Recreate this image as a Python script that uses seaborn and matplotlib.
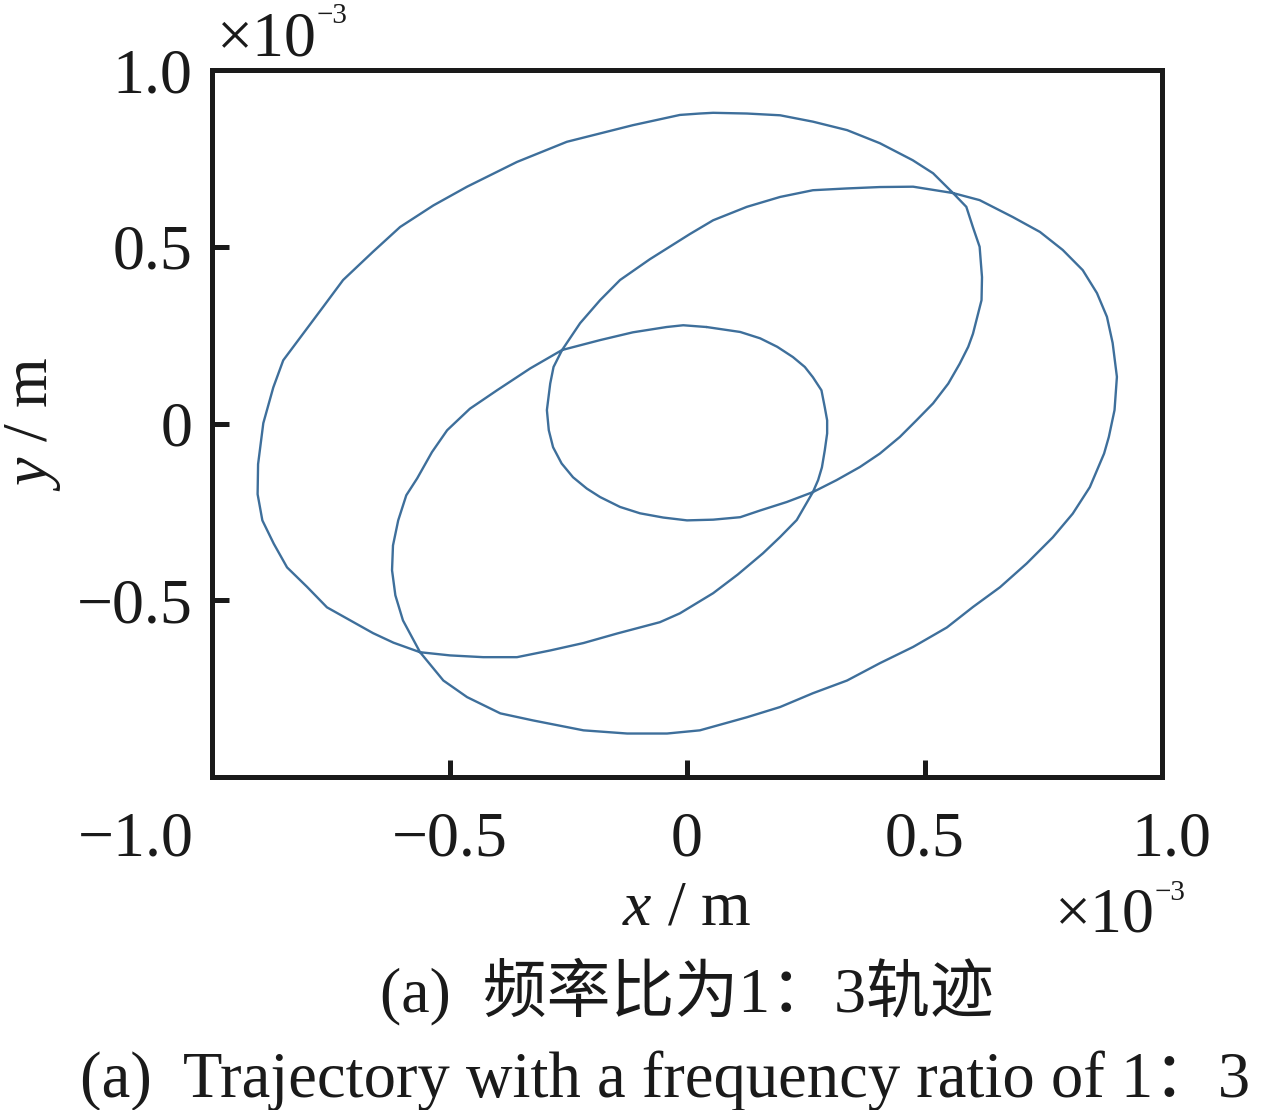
import numpy as np
import matplotlib
matplotlib.use('Agg')
import matplotlib.pyplot as plt
import seaborn as sns
from matplotlib.ticker import FuncFormatter
from matplotlib.transforms import ScaledTranslation

# orbit points, in units of 1e-3 m (one closed path)
x_mm = [0.041, -0.008, -0.043, -0.114, -0.183, -0.263,
        -0.330, -0.400, -0.457, -0.505, -0.537, -0.568, -0.591, -0.608, -0.619, -0.621,
        -0.614, -0.598, -0.562, -0.513, -0.463, -0.393, -0.324, -0.218, -0.126, -0.042,
        0.027, 0.126, 0.196, 0.265, 0.337, 0.406, 0.476, 0.547, 0.602, 0.659,
        0.715, 0.770, 0.812, 0.848, 0.878, 0.888, 0.900, 0.905, 0.896, 0.884,
        0.863, 0.833, 0.791, 0.743, 0.686, 0.616, 0.560,
        0.476, 0.406, 0.336, 0.265, 0.196, 0.126, 0.055, 0.006, -0.078, -0.141,
        -0.183, -0.225, -0.263,
        -0.281, -0.288, -0.295, -0.291, -0.282, -0.264, -0.240, -0.211, -0.183, -0.141,
        -0.099, -0.050, 0.000, 0.055, 0.112, 0.154, 0.210, 0.265,
        0.315, 0.364, 0.406, 0.448, 0.483, 0.518, 0.550, 0.574, 0.592, 0.602,
        0.620, 0.621, 0.616, 0.602, 0.588, 0.560,
        0.518, 0.475, 0.406, 0.337, 0.265, 0.196, 0.126, 0.055, 0.027, -0.015,
        -0.114, -0.253, -0.358, -0.463, -0.534, -0.604, -0.661, -0.724, -0.766, -0.814,
        -0.850, -0.871, -0.892, -0.903, -0.904, -0.894, -0.870, -0.842, -0.800, -0.758,
        -0.709, -0.661, -0.618, -0.562,
        -0.499, -0.429, -0.358, -0.288, -0.218, -0.147, -0.057, -0.015, 0.055, 0.107,
        0.160, 0.196, 0.231, 0.265,
        0.276, 0.284, 0.290, 0.295, 0.295, 0.290, 0.283, 0.265, 0.248, 0.223,
        0.190, 0.154, 0.112, 0.041]
y_mm = [0.273, 0.278, 0.273, 0.258, 0.236, 0.208,
        0.156, 0.094, 0.042, -0.019, -0.081, -0.155, -0.203, -0.274, -0.345, -0.415,
        -0.486, -0.557, -0.647, -0.727, -0.774, -0.820, -0.840, -0.868, -0.877, -0.877,
        -0.868, -0.831, -0.802, -0.763, -0.727, -0.678, -0.632, -0.577, -0.519, -0.463,
        -0.396, -0.322, -0.255, -0.180, -0.085, -0.038, 0.038, 0.132, 0.228, 0.302,
        0.369, 0.434, 0.491, 0.542, 0.584, 0.632, 0.652,
        0.670, 0.669, 0.665, 0.660, 0.641, 0.613, 0.575, 0.536, 0.465, 0.406,
        0.349, 0.284, 0.208,
        0.160, 0.113, 0.038, -0.019, -0.067, -0.113, -0.152, -0.184, -0.208, -0.236,
        -0.254, -0.266, -0.274, -0.272, -0.265, -0.246, -0.222, -0.194,
        -0.160, -0.123, -0.085, -0.038, 0.009, 0.057, 0.113, 0.169, 0.217, 0.254,
        0.349, 0.414, 0.500, 0.555, 0.613, 0.652,
        0.708, 0.745, 0.793, 0.830, 0.854, 0.872, 0.877, 0.879, 0.877, 0.873,
        0.844, 0.797, 0.740, 0.670, 0.617, 0.556, 0.486, 0.406, 0.330, 0.244,
        0.179, 0.102, 0.001, -0.115, -0.200, -0.274, -0.340, -0.407, -0.462, -0.520,
        -0.557, -0.593, -0.620, -0.647,
        -0.656, -0.661, -0.661, -0.642, -0.621, -0.594, -0.562, -0.537, -0.480, -0.427,
        -0.367, -0.321, -0.273, -0.194,
        -0.160, -0.124, -0.076, -0.028, 0.009, 0.046, 0.094, 0.131, 0.160, 0.188,
        0.217, 0.241, 0.259, 0.273]

x_ticks = [-1.0e-3, -0.5e-3, 0.0, 0.5e-3, 1.0e-3]
y_ticks = [-0.5e-3, 0.0, 0.5e-3, 1.0e-3]

caption_cn = '(a)  频率比为1：3轨迹'
caption_en = '(a)  Trajectory with a frequency ratio of 1：3'

x = np.array(x_mm) * 1e-3
y = np.array(y_mm) * 1e-3

sns.set_style('ticks')
plt.rcParams['font.family'] = ['Liberation Serif', 'Noto Sans CJK SC']
plt.rcParams['mathtext.fontset'] = 'custom'
plt.rcParams['mathtext.rm'] = 'Liberation Serif'
plt.rcParams['mathtext.it'] = 'Liberation Serif:italic'

ink = '#1a1a1a'
fig = plt.figure(figsize=(12.88, 11.10), dpi=100)
ax = fig.add_axes([0.1646, 0.3000, 0.7376, 0.6369])

sns.lineplot(x=x, y=y, sort=False, estimator=None, color='#3e6f9b',
             linewidth=1.7, ax=ax, solid_joinstyle='round')

ax.set_xlim(-1e-3, 1e-3)
ax.set_ylim(-1e-3, 1e-3)
ax.set_xticks(x_ticks)
ax.set_yticks(y_ticks)


def fmt(v, pos):
    v = round(v * 1e3, 1)
    if v == 0:
        return '0'
    return f'{v:.1f}'.replace('-', '\u2212')


ax.xaxis.set_major_formatter(FuncFormatter(fmt))
ax.yaxis.set_major_formatter(FuncFormatter(fmt))

ax.tick_params(direction='in', length=12, width=3.6, labelsize=46,
               colors=ink, top=False, right=False)
ax.tick_params(axis='x', pad=25)
ax.tick_params(axis='y', pad=14)
for s in ax.spines.values():
    s.set_visible(True)
    s.set_linewidth(3.6)
    s.set_color(ink)

ax.set_xlabel(r'$x$ / m', fontsize=46, color=ink)
ax.xaxis.set_label_coords(0.5, -0.209)
ax.xaxis.label.set_va('baseline')
ax.set_ylabel(r'$y$ / m', fontsize=46, color=ink)
ax.yaxis.set_label_coords(-0.174, 0.5)
ax.yaxis.label.set_va('baseline')

# the end labels of the x axis sit a little off their ticks in the original
xt = ax.xaxis.get_major_ticks()
xt[0].label1.set_transform(xt[0].label1.get_transform()
                           + ScaledTranslation(-0.76, 0, fig.dpi_scale_trans))
xt[-1].label1.set_transform(xt[-1].label1.get_transform()
                            + ScaledTranslation(0.09, 0, fig.dpi_scale_trans))

# exponent labels of both axes
fig.text(217 / 1288, 1 - 55 / 1110, '×10', fontsize=46,
         ha='left', va='baseline', color=ink)
fig.text(317 / 1288, 1 - 23 / 1110, '\u22123', fontsize=21,
         ha='left', va='baseline', color=ink)
fig.text(1055 / 1288, 1 - 932 / 1110, '×10', fontsize=46,
         ha='left', va='baseline', color=ink)
fig.text(1155 / 1288, 1 - 900 / 1110, '\u22123', fontsize=21,
         ha='left', va='baseline', color=ink)

fig.text(687 / 1288, 1 - 1011 / 1110, caption_cn, fontsize=46,
         ha='center', va='baseline', color=ink)
fig.text(80 / 1288, 1 - 1097 / 1110, caption_en, fontsize=46.5,
         ha='left', va='baseline', color=ink)

fig.savefig('out.png', dpi=100)
plt.close(fig)
